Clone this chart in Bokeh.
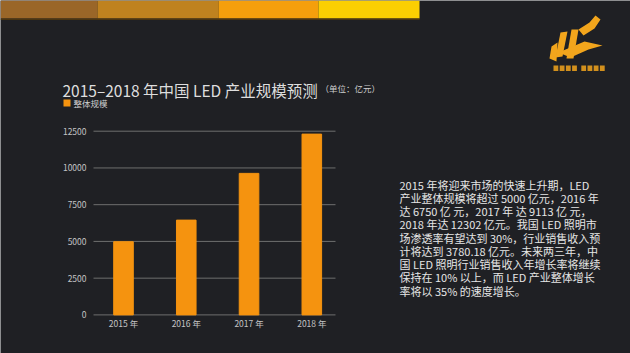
from bokeh.plotting import figure
from bokeh.models import Range1d, ColumnDataSource
from bokeh.core.properties import value
from bokeh.embed import file_html
from bokeh.resources import INLINE

# ---- data ----
categories = ["2015 年", "2016 年", "2017 年", "2018 年"]
values = [4980, 6450, 9630, 12302]
y_ticks = [0, 2500, 5000, 7500, 10000, 12500]
series_name = "整体规模"
title_text = "2015–2018 年中国 LED 产业规模预测"
unit_text = "（单位：亿元）"
para_lines = [
    "2015 年将迎来市场的快速上升期，LED",
    "产业整体规模将超过 5000 亿元，2016 年",
    "达 6750 亿 元，2017 年 达 9113 亿 元，",
    "2018 年达 12302 亿元。我国 LED 照明市",
    "场渗透率有望达到 30%，行业销售收入预",
    "计将达到 3780.18 亿元。未来两三年，中",
    "国 LED 照明行业销售收入年增长率将继续",
    "保持在 10% 以上，而 LED 产业整体增长",
    "率将以 35% 的速度增长。",
]
top_bar_colors = ["#9a6628", "#bf821f", "#f59f0c", "#fbcf02"]

# ---- layout geometry (pixels on the 630x353 slide) ----
W, H = 630, 353
BG = "#1f2024"
FONT = value("Noto Sans CJK SC")
BAR = "#f5930f"
PLOT_L, PLOT_R = 93, 335          # grid extent
Y0_PX, YTOP_PX = 314.4, 130.7     # pixel rows of 0 and of the top tick
CAT0_PX, CAT_STEP = 123, 62.77    # first category centre, spacing

k = (Y0_PX - YTOP_PX) / y_ticks[-1]            # px per unit
val_range = Range1d(start=-(H - Y0_PX) / k, end=Y0_PX / k)
cat_range = Range1d(start=-CAT0_PX / CAT_STEP, end=(W - CAT0_PX) / CAT_STEP)

p = figure(width=W, height=H, output_backend="svg", toolbar_location=None,
           x_range=Range1d(0, W), y_range=Range1d(H, 0),
           x_axis_type=None, y_axis_type=None, min_border=0)
p.extra_x_ranges = {"cat": cat_range}
p.extra_y_ranges = {"val": val_range}
p.background_fill_color = BG
p.border_fill_color = BG
p.outline_line_color = None
p.grid.visible = False

# soft light in the middle of the slide (many faint layers)
n = 12
cx, cy = 330, 190
p.quad(left=[cx - 330 + i * 20 for i in range(n)], right=[cx + 330 - i * 20 for i in range(n)],
       top=[cy - 200 + i * 11 for i in range(n)], bottom=[cy + 200 - i * 11 for i in range(n)],
       fill_color="#ffffff", fill_alpha=0.0045, line_color=None)

# top colour bars
edges = [0, 97, 218, 318, 419]
p.quad(left=edges[:-1], right=edges[1:], top=0, bottom=18, fill_color=top_bar_colors, line_color=None)
p.quad(left=0, right=419, top=18, bottom=19.5, fill_color="#4a3410", line_color=None)

# grid lines
p.segment(x0=PLOT_L, x1=PLOT_R, y0=y_ticks, y1=y_ticks, y_range_name="val",
          line_color="#6e6e6e", line_width=1)

# bars
idx = list(range(len(categories)))
src = ColumnDataSource(dict(x=idx, top=values))
p.vbar(x="x", top="top", bottom=0, width=0.312, source=src, color=BAR,
       x_range_name="cat", y_range_name="val")

# tick labels
p.text(x=86, y=y_ticks, text=[str(t) for t in y_ticks], y_range_name="val",
       text_align="right", text_baseline="middle", text_font=FONT,
       text_font_size="8.5px", text_color="#c4c4c4")
p.text(x=idx, y=322, text=categories, x_range_name="cat",
       text_align="center", text_baseline="middle", text_font=FONT,
       text_font_size="8.5px", text_color="#c4c4c4")

# title
p.text(x=[62], y=[89.5], text=[title_text], text_font=FONT, text_font_size="15.5px",
       text_color="#dedede", text_baseline="alphabetic")
p.text(x=[320], y=[87.5], text=[unit_text], text_font=FONT, text_font_size="8.5px",
       text_color="#cfcfcf", text_baseline="alphabetic")

# legend
p.quad(left=[63], right=[70], top=[99], bottom=[106], fill_color=BAR, line_color=None)
p.text(x=[73], y=[102.5], text=[series_name], text_font=FONT, text_font_size="8.5px",
       text_color="#cfcfcf", text_baseline="middle")

# paragraph
p.text(x=399, y=[184 + i * 13.25 for i in range(len(para_lines))], text=para_lines,
       text_font=FONT, text_font_size="11px", text_color="#e6e6e6", text_baseline="middle")

# logo (approximate shapes)
LOGO = "#f2a51c"
shapes = [
    [(560, 32), (567, 31), (562, 56), (555, 57)],
    [(571, 29), (578, 29), (573, 58), (566, 58)],
    [(578, 29), (589, 22), (595, 15), (600, 19), (594, 28), (583, 35)],
    [(558, 52), (584, 41), (602, 45), (588, 49), (570, 57)],
    [(551, 46), (557, 42), (556, 61), (549, 58)],
]
p.patches(xs=[[q[0] for q in s] for s in shapes], ys=[[q[1] for q in s] for s in shapes],
          fill_color=LOGO, line_color=None)
lx = [553 + kk * 6.2 + (3 if kk >= 4 else 0) for kk in range(8)]
p.quad(left=lx, right=[v + 4.8 for v in lx], top=65, bottom=70.5, fill_color=LOGO,
       fill_alpha=0.85, line_color=None)

open("out.html", "w").write(file_html(p, INLINE))
